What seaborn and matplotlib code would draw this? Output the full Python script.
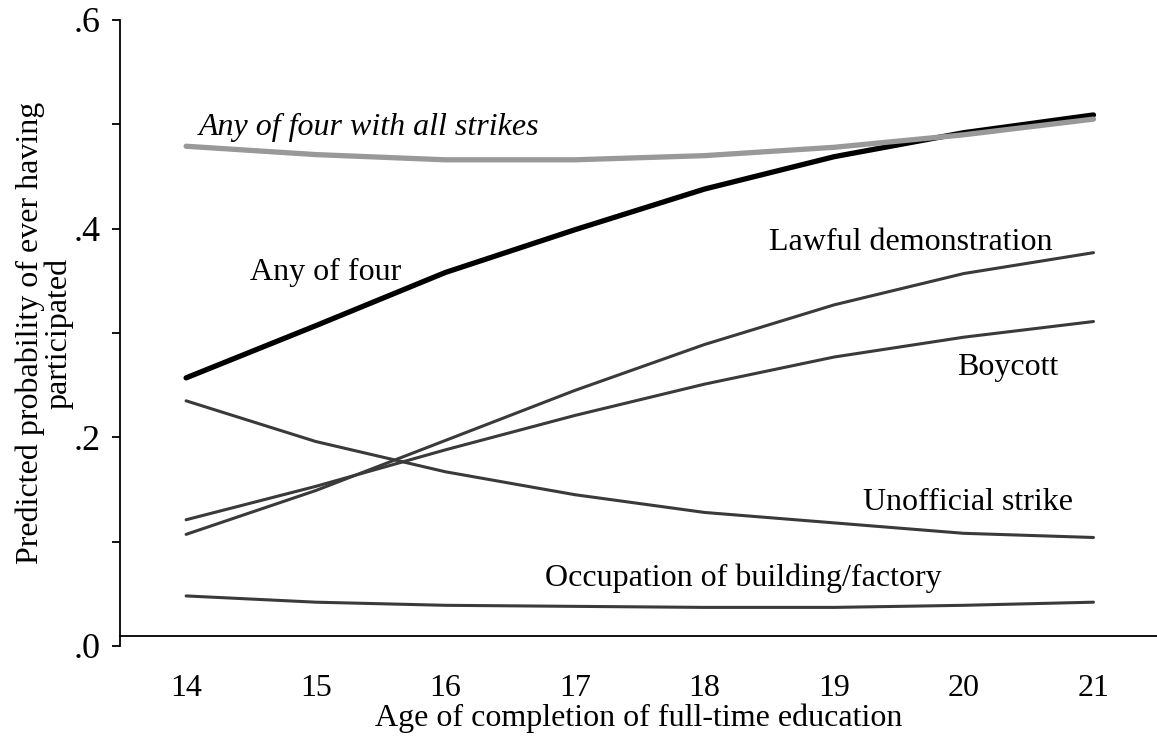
import matplotlib
matplotlib.use('Agg')
import matplotlib.pyplot as plt
import matplotlib.ticker as ticker
import seaborn as sns
import pandas as pd

# ages on the x axis
ages = [14, 15, 16, 17, 18, 19, 20, 21]

# predicted probabilities
any_four_all_strikes = [0.479, 0.471, 0.466, 0.466, 0.470, 0.478, 0.490, 0.505]
any_four = [0.257, 0.307, 0.358, 0.399, 0.438, 0.469, 0.492, 0.509]
lawful_demo = [0.107, 0.149, 0.197, 0.245, 0.289, 0.327, 0.357, 0.377]
boycott = [0.121, 0.153, 0.188, 0.221, 0.251, 0.277, 0.296, 0.311]
unofficial_strike = [0.235, 0.196, 0.167, 0.145, 0.128, 0.118, 0.108, 0.104]
occupation = [0.048, 0.042, 0.039, 0.038, 0.037, 0.037, 0.039, 0.042]

sns.set_style('white')
plt.rcParams['font.family'] = ['Liberation Serif', 'DejaVu Serif']
plt.rcParams['text.color'] = 'black'
plt.rcParams['axes.labelcolor'] = 'black'
plt.rcParams['xtick.color'] = 'black'
plt.rcParams['ytick.color'] = 'black'

fig = plt.figure(figsize=(11.57, 7.42), dpi=100)
ax = fig.add_axes([120 / 1157, 96 / 742, 1 - 120 / 1157, 626 / 742])

thin = '#3a3a3a'
series = [
    ('Occupation of building/factory', occupation, thin, 2.2),
    ('Unofficial strike', unofficial_strike, thin, 2.2),
    ('Boycott', boycott, thin, 2.2),
    ('Lawful demonstration', lawful_demo, thin, 2.2),
    ('Any of four', any_four, 'black', 3.8),
    ('Any of four with all strikes', any_four_all_strikes, '#999999', 3.8),
]
for name, vals, col, lw in series:
    df = pd.DataFrame({'age': ages, 'p': vals})
    sns.lineplot(data=df, x='age', y='p', color=col, linewidth=lw, ax=ax)

# line labels
fs = 23
ax.text(14.1, 0.497, 'Any of four with all strikes', fontsize=fs, style='italic', va='center')
ax.text(14.49, 0.358, 'Any of four', fontsize=fs, va='center')
ax.text(18.5, 0.387, 'Lawful demonstration', fontsize=fs, va='center')
ax.text(19.95, 0.267, 'Boycott', fontsize=fs, va='center')
ax.text(19.22, 0.138, 'Unofficial strike', fontsize=fs, va='center')
ax.text(16.77, 0.065, 'Occupation of building/factory', fontsize=fs, va='center')

ax.set_xlim(13.49, 21.49)
ax.set_ylim(0, 0.6)
ax.set_xticks(ages)
ax.set_yticks([0, 0.2, 0.4, 0.6])
ax.yaxis.set_minor_locator(ticker.FixedLocator([0.1, 0.3, 0.5]))
ax.yaxis.set_major_formatter(ticker.FuncFormatter(lambda v, p: ('%.1f' % v).lstrip('0')))

ax.spines['top'].set_visible(False)
ax.spines['right'].set_visible(False)
ax.spines['left'].set_bounds(0, 0.6)
ax.spines['bottom'].set_position(('data', 0.01))
for s in ['left', 'bottom']:
    ax.spines[s].set_color('black')
    ax.spines[s].set_linewidth(1.3)

ax.tick_params(axis='y', which='both', left=True, direction='out', length=6, width=1.3,
               color='black', labelsize=fs + 3, pad=8)
ax.tick_params(axis='x', bottom=False, length=0, labelsize=fs, pad=28)

ax.set_xlabel('Age of completion of full-time education', fontsize=fs, labelpad=0)
ax.set_ylabel('Predicted probability of ever having\nparticipated', fontsize=fs,
              labelpad=0, linespacing=0.95)

fig.savefig('out.png', dpi=100)
